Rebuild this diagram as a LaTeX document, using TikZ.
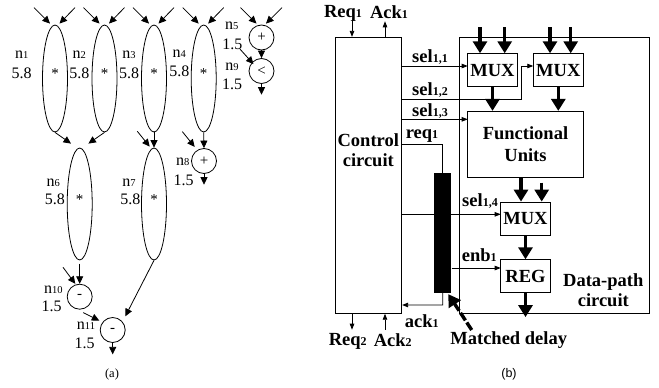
\documentclass[tikz,border=0pt]{standalone}
\usepackage{fontspec}
\setmainfont{Liberation Serif}
\newfontfamily\capfont{Liberation Sans}
\usetikzlibrary{arrows.meta,shapes.geometric}
\newcommand{\lown}[1]{{\fontsize{10.5}{10.5}\selectfont #1}}
\newcommand{\lowb}[1]{{\fontsize{12}{12}\selectfont #1}}
\tikzset{
	sig/.style={-{Triangle[length=7.5pt,width=7pt]},line width=0.8pt},
	wire/.style={-{Triangle[length=6pt,width=4.5pt]},line width=0.8pt},
	bus/.style={-{Triangle[length=12pt,width=14pt]},line width=3.4pt},
	mulop/.style={draw,ellipse,inner sep=0pt,line width=0.8pt,minimum width=25pt,font=\fontsize{15}{15}\selectfont},
	addop/.style={draw,circle,inner sep=0pt,line width=0.8pt,minimum size=25pt,font=\fontsize{15}{15}\selectfont},
	txt/.style={inner sep=0pt,font=\fontsize{16}{17}\selectfont},
	blk/.style={draw,inner sep=0pt,line width=0.8pt,font=\fontsize{18.5}{22}\selectfont\bfseries,align=center},
	lbl/.style={inner sep=0pt,font=\fontsize{18.5}{20.5}\selectfont\bfseries,align=center},
}
\begin{document}
\begin{tikzpicture}[x=1pt,y=-1pt]
	\useasboundingbox (0,0) rectangle (659,388);
	\node[mulop,minimum height=107pt] (n1) at (55,78.5) {\smash{*}};
	\node[mulop,minimum height=107pt] (n2) at (104.5,78.5) {\smash{*}};
	\node[mulop,minimum height=107pt] (n3) at (154,78.5) {\smash{*}};
	\node[mulop,minimum height=107pt] (n4) at (203.7,78.5) {\smash{*}};
	\node[mulop,minimum height=112pt] (n6) at (79.7,204) {\smash{*}};
	\node[mulop,minimum height=112pt] (n7) at (154,204) {\smash{*}};
	\node[addop] (n5) at (261.5,37.5) {+};
	\node[addop] (n9) at (261.5,71) {<};
	\node[addop] (n8) at (204,161) {+};
	\node[addop] (n10) at (79.7,296.7) {-};
	\node[addop] (n11) at (112.7,330) {-};
	\node[txt] (n1t) at (21.7,55) {n\lown{1}};
	\node[txt] (n1d) at (21.7,73) {5.8};
	\node[txt] (n2t) at (79.3,55) {n\lown{2}};
	\node[txt] (n2d) at (79.3,73) {5.8};
	\node[txt] (n3t) at (129,55) {n\lown{3}};
	\node[txt] (n3d) at (129,73) {5.8};
	\node[txt] (n4t) at (179.3,53.5) {n\lown{4}};
	\node[txt] (n4d) at (179.3,71.5) {5.8};
	\node[txt] (n5t) at (231.7,26) {n\lown{5}};
	\node[txt] (n5d) at (232.3,44) {1.5};
	\node[txt] (n9t) at (232,66.7) {n\lown{9}};
	\node[txt] (n9d) at (232,84.7) {1.5};
	\node[txt] (n8t) at (182.7,161.7) {n\lown{8}};
	\node[txt] (n8d) at (183.7,180) {1.5};
	\node[txt] (n6t) at (53.3,183) {n\lown{6}};
	\node[txt] (n6d) at (55,199.3) {5.8};
	\node[txt] (n7t) at (129,183) {n\lown{7}};
	\node[txt] (n7d) at (130.3,199.3) {5.8};
	\node[txt] (n10t) at (53.3,289.3) {n\lown{10}};
	\node[txt] (n10d) at (51.7,306.7) {1.5};
	\node[txt] (n11t) at (86,326) {n\lown{11}};
	\node[txt] (n11d) at (84.7,343.3) {1.5};
	\draw[sig] ([shift={(-21,-17)}]n1.north) to ([shift={(-5,-1)}]n1.north);
	\draw[sig] ([shift={(20,-17)}]n1.north) to ([shift={(4.5,-1)}]n1.north);
	\draw[sig] ([shift={(-21,-17)}]n2.north) to ([shift={(-5,-1)}]n2.north);
	\draw[sig] ([shift={(20,-17)}]n2.north) to ([shift={(4.5,-1)}]n2.north);
	\draw[sig] ([shift={(-21,-17)}]n3.north) to ([shift={(-5,-1)}]n3.north);
	\draw[sig] ([shift={(20,-17)}]n3.north) to ([shift={(4.5,-1)}]n3.north);
	\draw[sig] ([shift={(-21,-17)}]n4.north) to ([shift={(-5,-1)}]n4.north);
	\draw[sig] ([shift={(20,-17)}]n4.north) to ([shift={(4.5,-1)}]n4.north);
	\draw[sig] ([shift={(-21,-17)}]n5.north) to ([shift={(-5,-1)}]n5.north);
	\draw[sig] ([shift={(20.5,-17)}]n5.north) to ([shift={(4.5,-1)}]n5.north);
	\draw[sig] (n5.south) to (n9.north);
	\draw[sig] ([shift={(-21.5,-9)}]n9.north) to ([shift={(-8,6)}]n9.north);
	\draw[sig] (n9.south) to ([yshift=-10.8pt]n9.south);
	\draw[sig] (n1.south) to ([shift={(-8.7,-4)}]n6.north);
	\draw[sig] (n2.south) to ([shift={(8.7,-4)}]n6.north);
	\draw[sig] (n3.south) to (n7.north);
	\draw[sig] ([shift={(-16.7,-16.3)}]n7.north) to ([shift={(-4.3,-1)}]n7.north);
	\draw[sig] (n4.south) to (n8.north);
	\draw[sig] ([shift={(-21.7,-16.5)}]n8.north) to ([shift={(-9.3,-1.2)}]n8.north);
	\draw[sig] (n8.south) to ([yshift=-10.8pt]n8.south);
	\draw[sig] ([yshift=-3.3pt]n6.south) to (n10.north);
	\draw[sig] ([shift={(-16.7,-16.5)}]n10.north) to ([shift={(-4.4,0)}]n10.north);
	\draw[sig] (n7.south) to ([shift={(12.6,-0.8)}]n11.north);
	\draw[sig] ([shift={(-29.4,-4.5)}]n11.north) to ([shift={(-13.4,3.5)}]n11.north);
	\draw[sig] (n11.south) to ([yshift=-11.5pt]n11.south);
	\node[inner sep=0pt,font=\fontsize{12.5}{12.5}\selectfont] (capa) at (112,374) {(a)};
	\node[blk,minimum width=66.4pt,minimum height=276pt] (Ctrl) at (368.5,175.3) {};
	\node[blk,minimum width=190pt,minimum height=276pt] (Path) at (554.3,175.3) {};
	\node[blk,minimum width=49.6pt,minimum height=33pt] (Mux1) at (492.5,70.2) {MUX};
	\node[blk,minimum width=50pt,minimum height=33pt] (Mux2) at (558.3,70.2) {MUX};
	\node[blk,minimum width=115.6pt,minimum height=66pt] (FU) at (525.5,144.3) {Functional\\Units};
	\node[blk,minimum width=49.6pt,minimum height=33pt] (Mux3) at (525.5,218.5) {MUX};
	\node[blk,minimum width=49.6pt,minimum height=33pt] (Reg) at (525.5,276.2) {REG};
	\coordinate (S11) at (467.7,66);
	\coordinate (S12) at (521.3,99);
	\coordinate (S2) at (533.3,66);
	\coordinate (S13) at (467.7,119.3);
	\coordinate (Rq) at (442.7,144.3);
	\coordinate (S14) at (500.7,214.3);
	\coordinate (En) at (500.7,268);
	\coordinate (Ak) at (442.7,305);
	\draw[wire] (Ctrl.east |- S11) to (S11);
	\draw[wire] (Ctrl.east |- S12) -- (S12) -- (S12 |- S2) -- (S2);
	\draw[wire] (Ctrl.east |- S13) to (S13);
	\draw[wire] (Ctrl.east |- S14) to (S14);
	\draw[line width=0.8pt] (Ctrl.east |- Rq) -- (Rq) -- (Rq |- 0,175);
	\node[fill=black,inner sep=0pt,minimum width=17pt,minimum height=120.3pt] (Delay) at (442.8,232.8) {};
	\draw[wire] (Delay.east |- En) to (En);
	\draw[wire] (Delay.south) -- (Ak) -- (Ctrl.east |- Ak);
	\draw[wire] ([shift={(-16.5,-17.3)}]Ctrl.north) to ([xshift=-16.5pt]Ctrl.north);
	\draw[wire] ([xshift=16.5pt]Ctrl.north) to ([shift={(16.5,-15.6)}]Ctrl.north);
	\draw[wire] ([xshift=-16.5pt]Ctrl.south) to ([shift={(-16.5,16)}]Ctrl.south);
	\draw[wire] ([shift={(16.5,16)}]Ctrl.south) to ([xshift=16.5pt]Ctrl.south);
	\draw[bus] ([shift={(-12.5,-26)}]Mux1.north) to ([xshift=-12.5pt]Mux1.north);
	\draw[bus] ([shift={(12.2,-26)}]Mux1.north) to ([xshift=12.2pt]Mux1.north);
	\draw[bus] ([shift={(-8.3,-26)}]Mux2.north) to ([xshift=-8.3pt]Mux2.north);
	\draw[bus] ([shift={(12.4,-26)}]Mux2.north) to ([xshift=12.4pt]Mux2.north);
	\draw[bus] (Mux1.south) to (Mux1.south |- FU.north);
	\draw[bus] (Mux2.south) to (Mux2.south |- FU.north);
	\draw[bus] ([xshift=-4.5pt]Mux3.north |- FU.south) to ([xshift=-4.5pt]Mux3.north);
	\draw[bus] ([shift={(16.2,-19)}]Mux3.north) to ([xshift=16.2pt]Mux3.north);
	\draw[bus] (Mux3.south) to (Reg.north);
	\draw[bus] (Reg.south) to ([yshift=-24pt]Reg.south);
	\node[lbl] (ctext) at (368.3,150) {Control\\circuit};
	\node[lbl] (dtext) at (603.3,290) {Data-path\\circuit};
	\node[lbl] (req1) at (343,13.5) {Req\lowb{1}};
	\node[lbl] (ack1) at (389,12) {Ack\lowb{1}};
	\node[lbl] (req2) at (347.7,341.5) {Req\lowb{2}};
	\node[lbl] (ack2) at (392.7,340) {Ack\lowb{2}};
	\node[lbl] (sel11) at (430,57.3) {sel\lowb{1,1}};
	\node[lbl] (sel12) at (430,90) {sel\lowb{1,2}};
	\node[lbl] (sel13) at (430,111) {sel\lowb{1,3}};
	\node[lbl] (sel14) at (480,201) {sel\lowb{1,4}};
	\node[lbl] (reqi) at (422,136.5) {req\lowb{1}};
	\node[lbl] (enb) at (479.3,255) {enb\lowb{1}};
	\node[lbl] (ack) at (421.7,320.7) {ack\lowb{1}};
	\node[lbl] (match) at (508.7,340) {Matched delay};
	\coordinate (M) at (471.7,330);
	\draw[bus,dashed,dash pattern=on 9pt off 2.5pt] (M) to ([shift={(5.5,1)}]Delay.south);
	\node[inner sep=0pt,font=\capfont\fontsize{12.5}{12.5}\selectfont] (capb) at (509,374) {(b)};
\end{tikzpicture}
\end{document}
